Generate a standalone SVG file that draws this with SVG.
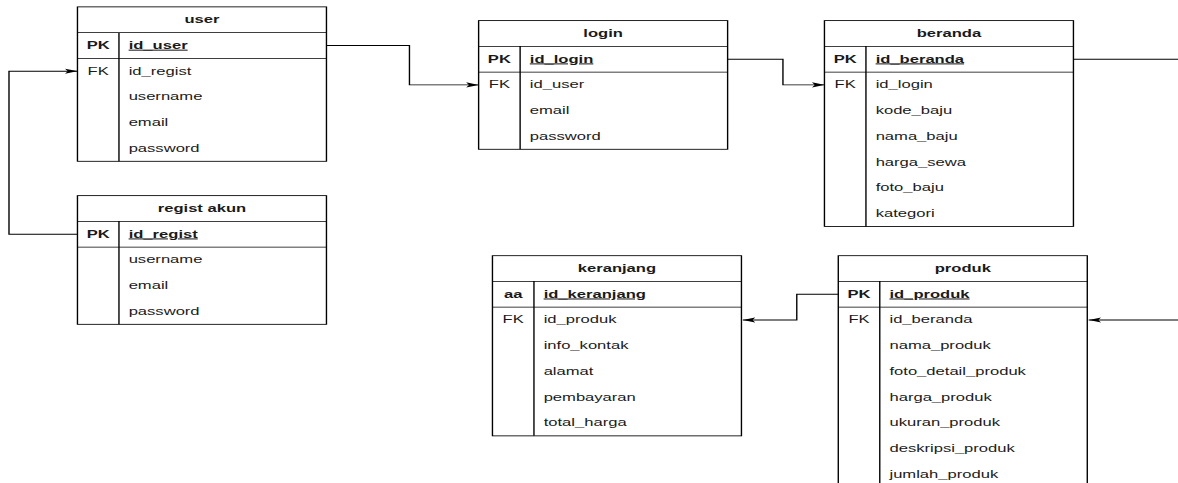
<svg xmlns="http://www.w3.org/2000/svg" width="1178" height="483" viewBox="0 0 1178 483">
<style>
.box{fill:#fff;stroke:#000;stroke-width:1}
.ln{stroke:#000;stroke-width:1;fill:none}
.t{font-family:"Liberation Sans",Arial,Helvetica,sans-serif;font-size:12px;fill:#1a1a1a}
.h{font-weight:bold;text-anchor:middle}
.k{text-anchor:middle}
.b{font-weight:bold}
.u{font-weight:bold;text-decoration:underline}
.c{stroke:#000;stroke-width:1;fill:none;marker-end:url(#arr)}
</style>
<defs>
<marker id="arr" markerUnits="userSpaceOnUse" markerWidth="9" markerHeight="7" viewBox="0 0 9 7" refX="9" refY="3.5" orient="auto">
<path d="M0,0.5 L9,3.5 L0,6.5 L2,3.5 z" fill="#000"/>
</marker>
</defs>
<rect x="0" y="0" width="1178" height="483" fill="#fff"/>
<g transform="scale(1.3833 0.858)">
<g id="user">
<rect class="box" x="56" y="8" width="180" height="180"/>
<path class="ln" d="M56,38 H236 M56,68 H236 M86,38 V188"/>
<text class="t h" x="146" y="27">user</text>
<text class="t k b" x="71" y="57">PK</text>
<text class="t u" x="93" y="57">id_user</text>
<text class="t k" x="71" y="87">FK</text>
<text class="t" x="93" y="87">id_regist</text>
<text class="t" x="93" y="117">username</text>
<text class="t" x="93" y="147">email</text>
<text class="t" x="93" y="177">password</text>
</g>
<g id="regist-akun">
<rect class="box" x="56" y="228" width="180" height="150"/>
<path class="ln" d="M56,258 H236 M56,288 H236 M86,258 V378"/>
<text class="t h" x="146" y="247">regist akun</text>
<text class="t k b" x="71" y="277">PK</text>
<text class="t u" x="93" y="277">id_regist</text>
<text class="t" x="93" y="307">username</text>
<text class="t" x="93" y="337">email</text>
<text class="t" x="93" y="367">password</text>
</g>
<g id="login">
<rect class="box" x="346" y="24" width="180" height="150"/>
<path class="ln" d="M346,54 H526 M346,84 H526 M376,54 V174"/>
<text class="t h" x="436" y="43">login</text>
<text class="t k b" x="361" y="73">PK</text>
<text class="t u" x="383" y="73">id_login</text>
<text class="t k" x="361" y="103">FK</text>
<text class="t" x="383" y="103">id_user</text>
<text class="t" x="383" y="133">email</text>
<text class="t" x="383" y="163">password</text>
</g>
<g id="beranda">
<rect class="box" x="596" y="24" width="180" height="240"/>
<path class="ln" d="M596,54 H776 M596,84 H776 M626,54 V264"/>
<text class="t h" x="686" y="43">beranda</text>
<text class="t k b" x="611" y="73">PK</text>
<text class="t u" x="633" y="73">id_beranda</text>
<text class="t k" x="611" y="103">FK</text>
<text class="t" x="633" y="103">id_login</text>
<text class="t" x="633" y="133">kode_baju</text>
<text class="t" x="633" y="163">nama_baju</text>
<text class="t" x="633" y="193">harga_sewa</text>
<text class="t" x="633" y="223">foto_baju</text>
<text class="t" x="633" y="253">kategori</text>
</g>
<g id="keranjang">
<rect class="box" x="356" y="298" width="180" height="210"/>
<path class="ln" d="M356,328 H536 M356,358 H536 M386,328 V508"/>
<text class="t h" x="446" y="317">keranjang</text>
<text class="t k b" x="371" y="347">aa</text>
<text class="t u" x="393" y="347">id_keranjang</text>
<text class="t k" x="371" y="377">FK</text>
<text class="t" x="393" y="377">id_produk</text>
<text class="t" x="393" y="407">info_kontak</text>
<text class="t" x="393" y="437">alamat</text>
<text class="t" x="393" y="467">pembayaran</text>
<text class="t" x="393" y="497">total_harga</text>
</g>
<g id="produk">
<rect class="box" x="606" y="298" width="180" height="300"/>
<path class="ln" d="M606,328 H786 M606,358 H786 M636,328 V598"/>
<text class="t h" x="696" y="317">produk</text>
<text class="t k b" x="621" y="347">PK</text>
<text class="t u" x="643" y="347">id_produk</text>
<text class="t k" x="621" y="377">FK</text>
<text class="t" x="643" y="377">id_beranda</text>
<text class="t" x="643" y="407">nama_produk</text>
<text class="t" x="643" y="437">foto_detail_produk</text>
<text class="t" x="643" y="467">harga_produk</text>
<text class="t" x="643" y="497">ukuran_produk</text>
<text class="t" x="643" y="527">deskripsi_produk</text>
<text class="t" x="643" y="557">jumlah_produk</text>
</g>
<g id="connectors">
<path class="c" d="M236,53 H296 V99 H346"/>
<path class="c" d="M526,69 H566 V99 H596"/>
<path class="ln" d="M776,69 H860"/>
<path class="c" d="M860,373 H787"/>
<path class="c" d="M606,343 H576 V373 H537"/>
<path class="c" d="M56,273 H6.5 V83 H56"/>
</g>
</g>
</svg>
